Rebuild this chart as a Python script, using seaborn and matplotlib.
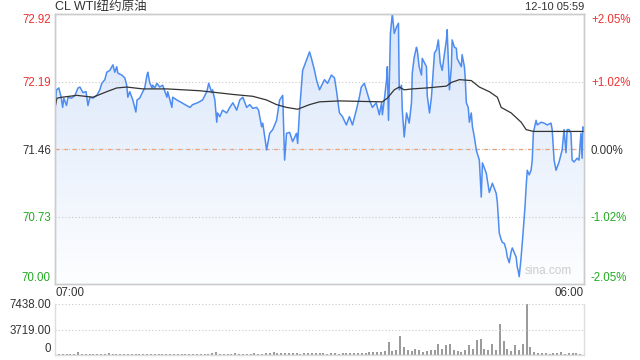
import numpy as np
import seaborn as sns
import matplotlib
matplotlib.use("Agg")
import matplotlib.pyplot as plt
from matplotlib.colors import LinearSegmentedColormap
from matplotlib.patches import PathPatch

# minutes after 07:00 and last traded price
price_min = [0, 4, 10, 16, 20, 23, 30, 34, 43, 52, 60, 65, 73, 81, 86, 91, 99, 109, 117, 122,
             130, 135, 143, 151, 156, 161, 164, 174, 182, 187, 190, 195, 203, 211, 214, 221, 229, 234, 240, 242,
             247, 253, 255, 260, 266, 273, 281, 292, 294, 305, 307, 318, 331, 339, 352, 359, 372, 385, 396, 401,
             409, 411, 417, 422, 424, 430, 437, 448, 456, 464, 474, 482, 490, 500, 508, 516, 526, 531, 539, 542,
             552, 560, 568, 578, 586, 594, 599, 604, 612, 620, 630, 633, 638, 646, 656, 664, 669, 677, 682, 690,
             703, 711, 721, 729, 734, 742, 750, 760, 768, 776, 786, 794, 799, 807, 812, 820, 828, 838, 846, 852,
             854, 859, 865, 867, 870, 875, 880, 885, 891, 896, 898, 904, 906, 911, 917, 924, 930, 932, 937, 943,
             945, 950, 956, 958, 969, 971, 977, 982, 990, 995, 1000, 1005, 1010, 1021, 1023, 1029, 1034, 1036, 1042, 1047,
             1049, 1060, 1062, 1068, 1070, 1073, 1078, 1081, 1086, 1089, 1094, 1099, 1101, 1107, 1112, 1115, 1125, 1133, 1141, 1151,
             1154, 1159, 1164, 1167, 1172, 1177, 1180, 1185, 1190, 1193, 1198, 1203, 1206, 1208, 1211, 1216, 1221, 1226, 1229, 1232,
             1237, 1242, 1245, 1248, 1255, 1258, 1268, 1276, 1284, 1294, 1297, 1302, 1307, 1315, 1323, 1328, 1333, 1336, 1341, 1346,
             1349, 1354, 1362, 1367, 1372, 1375, 1377, 1379]
price = [71.90, 72.10, 72.12, 72.02, 71.91, 72.01, 71.93, 72.02, 72.01, 72.04, 72.12, 72.13, 72.07, 72.08, 71.93, 72.02, 72.01, 72.04, 72.10, 72.17,
         72.21, 72.29, 72.31, 72.37, 72.29, 72.35, 72.28, 72.26, 72.23, 72.15, 72.02, 72.08, 71.99, 71.86, 71.99, 72.01, 72.08, 72.12, 72.26, 72.29,
         72.18, 72.12, 72.15, 72.12, 72.17, 72.13, 72.15, 72.02, 72.08, 71.91, 72.02, 71.99, 71.96, 71.94, 71.91, 71.94, 71.96, 71.99, 72.08, 72.17,
         72.07, 72.10, 71.99, 71.75, 71.85, 71.81, 71.88, 71.85, 71.91, 71.96, 71.88, 71.99, 72.02, 71.91, 71.94, 71.90, 71.91, 71.88, 71.70, 71.74,
         71.45, 71.63, 71.67, 71.77, 71.99, 72.04, 71.34, 71.63, 71.64, 71.54, 71.63, 71.52, 71.88, 72.31, 72.42, 72.51, 72.44, 72.31, 72.21, 72.10,
         72.21, 72.17, 72.26, 72.23, 72.10, 71.85, 71.81, 71.72, 71.81, 71.72, 71.88, 72.02, 72.13, 72.17, 72.10, 71.99, 71.91, 71.96, 71.83, 71.96,
         71.83, 71.99, 72.21, 72.35, 71.77, 72.71, 72.92, 72.71, 72.78, 72.82, 72.10, 72.15, 71.88, 71.59, 71.85, 71.74, 71.96, 72.28, 72.45, 72.56,
         72.53, 72.35, 72.26, 72.44, 72.35, 72.04, 71.85, 72.02, 72.50, 72.53, 72.64, 72.39, 72.31, 72.64, 72.75, 72.10, 72.35, 72.64, 72.56, 72.55,
         72.44, 72.35, 72.48, 72.35, 72.24, 71.96, 71.91, 71.75, 71.85, 71.70, 71.59, 71.45, 71.42, 71.34, 70.94, 71.31, 71.20, 70.99, 71.09, 70.98,
         70.88, 70.55, 70.48, 70.45, 70.44, 70.37, 70.29, 70.23, 70.35, 70.39, 70.34, 70.29, 70.18, 70.15, 70.08, 70.29, 70.55, 70.83, 71.05, 71.23,
         71.18, 71.23, 71.34, 71.64, 71.77, 71.72, 71.75, 71.74, 71.72, 71.74, 71.67, 71.34, 71.23, 71.32, 71.45, 71.67, 71.42, 71.67, 71.67, 71.63,
         71.34, 71.32, 71.36, 71.34, 71.63, 71.36, 71.70, 71.67]

# average price line
avg_min = [0, 5, 18, 57, 99, 135, 161, 187, 229, 292, 378, 422, 464, 516, 552, 578, 604, 633, 664, 690,
           742, 854, 867, 885, 898, 911, 932, 969, 1021, 1034, 1055, 1086, 1107, 1133, 1154, 1164, 1190, 1216, 1229, 1248, 1379]
avg_price = [71.90, 72.01, 72.02, 72.04, 72.02, 72.08, 72.12, 72.13, 72.11, 72.11, 72.09, 72.07, 72.05, 72.03, 71.99, 71.94, 71.91, 71.89, 71.94, 71.97,
             71.98, 71.97, 72.01, 72.10, 72.13, 72.10, 72.11, 72.12, 72.14, 72.18, 72.21, 72.20, 72.13, 72.08, 72.02, 71.91, 71.85, 71.75, 71.67, 71.65, 71.65]

# volume in 10-minute buckets
vol_min = list(range(0, 1380, 10))
volume = [120, 150, 100, 180, 130, 160, 400, 140, 120, 150,
          180, 130, 160, 120, 350, 150, 200, 140, 170, 130,
          150, 120, 180, 200, 140, 160, 130, 190, 150, 120,
          140, 170, 130, 150, 120, 160, 180, 140, 200, 150,
          170, 220, 400, 180, 160, 200, 150, 230, 170, 190,
          210, 160, 240, 200, 180, 220, 260, 450, 300, 240,
          220, 260, 300, 250, 200, 280, 240, 300, 260, 220,
          250, 200, 230, 270, 210, 250, 300, 240, 280, 320,
          300, 350, 420, 380, 500, 450, 600, 1930, 600, 700,
          2700, 1200, 800, 600, 900, 700, 500, 600, 800, 700,
          1640, 900, 1500, 1600, 800, 600, 500, 700, 1400, 900,
          2200, 2400, 900, 700, 1600, 800, 4460, 2000, 900, 600,
          1500, 800, 1600, 7438, 1100, 400, 300, 250, 300, 200,
          350, 250, 400, 200, 300, 250, 300, 200]

prev_close = 71.46
y_ticks = [72.92, 72.19, 71.46, 70.73, 70.00]
pct_labels = ["+2.05%", "+1.02%", "0.00%", "-1.02%", "-2.05%"]
tick_colors = ["#f03030", "#f03030", "#333333", "#22aa22", "#22aa22"]
vol_ticks = [7438, 3719, 0]
vol_labels = ["7438.00", "3719.00", "0"]

sns.set_style("white")
plt.rcParams["font.family"] = ["Liberation Sans", "Noto Sans CJK SC", "DejaVu Sans"]

fig = plt.figure(figsize=(6.4, 3.6), dpi=100)
W, H = 640, 360
x0, x1 = 55, 584
ax = fig.add_axes([x0 / W, 1 - 284 / H, (x1 - x0) / W, 270 / H])
axv = fig.add_axes([x0 / W, 1 - 355 / H, (x1 - x0) / W, 51 / H])

# gradient fill under the price line
poly = ax.fill_between(price_min, price, 70.0, facecolor="none", edgecolor="none")
cmap = LinearSegmentedColormap.from_list("fill", ["#fdfeff", "#d8e5fa"])
grad = ax.imshow(np.linspace(0, 1, 256).reshape(-1, 1), cmap=cmap, aspect="auto",
                 extent=[0, 1380, 70.0, 72.92], origin="lower", zorder=1)
clip = PathPatch(poly.get_paths()[0], transform=ax.transData, facecolor="none", edgecolor="none")
ax.add_patch(clip)
grad.set_clip_path(clip)

for v in [72.19, 70.73]:
    ax.axhline(v, color="#c8c8c8", ls=(0, (1, 2)), lw=0.8, zorder=2)
ax.axhline(prev_close, color="#bbbbbb", ls=(0, (1, 2)), lw=0.8, zorder=2)
ax.axhline(prev_close, color="#f0a070", ls=(0, (3, 4)), lw=0.9, zorder=2)

sns.lineplot(x=price_min, y=price, ax=ax, color="#4d8cf0", lw=1.1, zorder=4)
sns.lineplot(x=avg_min, y=avg_price, ax=ax, color="#333333", lw=0.9, zorder=5)

ax.set_xlim(0, 1380)
ax.set_ylim(70.0, 72.92)
ax.set_xticks([])
ax.set_yticks(y_ticks)
ax.set_yticklabels([f"{v:.2f}" for v in y_ticks], fontsize=8.3)
ax.tick_params(axis="y", length=0, pad=3)
for lab, c in zip(ax.get_yticklabels(), tick_colors):
    lab.set_color(c)
ax.get_yticklabels()[0].set_va("top")
ax.get_yticklabels()[-1].set_va("bottom")

ax2 = ax.twinx()
ax2.set_ylim(70.0, 72.92)
ax2.set_yticks(y_ticks)
ax2.set_yticklabels(pct_labels, fontsize=8.3)
ax2.tick_params(axis="y", length=0, pad=5)
for lab, c in zip(ax2.get_yticklabels(), tick_colors):
    lab.set_color(c)
ax2.get_yticklabels()[0].set_va("top")
ax2.get_yticklabels()[-1].set_va("bottom")

for a in (ax, ax2):
    for s in a.spines.values():
        s.set_color("#cccccc")
        s.set_linewidth(1)

ax.text(0.977, 0.025, "sina.com", transform=ax.transAxes, ha="right", va="bottom",
        fontsize=8.5, color="#cccccc", zorder=6)

# volume panel
axv.vlines(vol_min, 0, volume, color="#888888", lw=1.2)
axv.axhline(0, color="#aaaaaa", lw=1)
for v in [7438, 3719]:
    axv.axhline(v, color="#c8c8c8", ls=(0, (1, 2)), lw=0.8)
axv.set_xlim(0, 1380)
axv.set_ylim(0, 7438)
axv.set_xticks([])
axv.set_yticks(vol_ticks)
axv.set_yticklabels(vol_labels, fontsize=8.3, color="#333333")
axv.get_yticklabels()[-1].set_va("bottom")
axv.tick_params(axis="y", length=0, pad=3)
axv.spines["top"].set_visible(False)
for k in ["left", "right", "bottom"]:
    axv.spines[k].set_color("#dddddd")
    axv.spines[k].set_linewidth(1)

fig.text(x0 / W, 1 - 293 / H, "07:00", ha="left", va="center", fontsize=8.3, color="#333333")
fig.text(x1 / W, 1 - 293 / H, "06:00", ha="right", va="center", fontsize=8.3, color="#333333")
fig.text(x0 / W, 1 - 7 / H, "CL WTI纽约原油", ha="left", va="center", fontsize=9, color="#333333")
fig.text(x1 / W, 1 - 7 / H, "12-10 05:59", ha="right", va="center", fontsize=8, color="#333333")

fig.savefig("out.png", dpi=100, facecolor="white")
